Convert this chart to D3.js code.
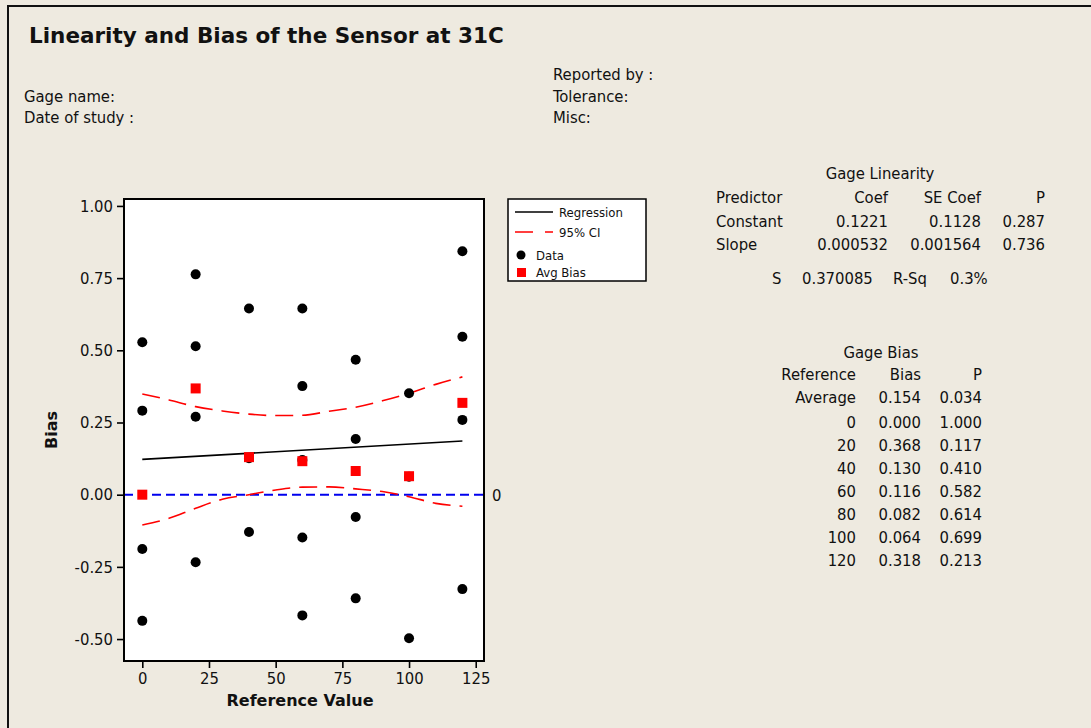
<!DOCTYPE html>
<html>
<head>
<meta charset="utf-8">
<script src="https://cdn.jsdelivr.net/npm/d3@7"></script>
<style>
  html, body { margin: 0; padding: 0; background: #EEEAE0; }
  svg { display: block; }
  .reg { font-family: 'DejaVu Sans Condensed', 'DejaVu Sans', sans-serif; font-stretch: condensed; fill: #111; }
  .bold { font-family: 'DejaVu Sans', sans-serif; font-weight: bold; fill: #111; }
</style>
</head>
<body>
<svg id="chart" width="1091" height="728"></svg>
<script>
// Reference values used in the study
const refValues = [0, 20, 40, 60, 80, 100, 120];

// Individual bias measurements (reference value, bias)
const dataRef  = [0, 0, 0, 0,
                  20, 20, 20, 20,
                  40, 40, 40,
                  60, 60, 60, 60, 60,
                  80, 80, 80, 80,
                  100, 100, 100,
                  120, 120, 120, 120];
const dataBias = [0.528, 0.291, -0.188, -0.437,
                  0.763, 0.514, 0.270, -0.234,
                  0.645, 0.126, -0.129,
                  0.645, 0.376, 0.120, -0.148, -0.418,
                  0.467, 0.193, -0.077, -0.359,
                  0.351, 0.062, -0.497,
                  0.843, 0.547, 0.259, -0.327];

// Average bias per reference value
const avgBias = [0.000, 0.368, 0.130, 0.116, 0.082, 0.064, 0.318];
const biasP   = ["1.000", "0.117", "0.410", "0.582", "0.614", "0.699", "0.213"];

// Regression fit
const regConst = 0.1221;
const regSlope = 0.000532;

// 95% confidence band of the regression
const ciRef   = [0, 10, 20, 30, 40, 50, 60, 70, 80, 90, 100, 110, 120];
const ciUpper = [0.349, 0.328, 0.305, 0.290, 0.279, 0.274, 0.275, 0.289, 0.303, 0.325, 0.351, 0.382, 0.408];
const ciLower = [-0.105, -0.082, -0.047, -0.016, 0.000, 0.016, 0.026, 0.027, 0.020, 0.011, -0.007, -0.030, -0.040];

// Axis ticks
const xTickValues = [0, 25, 50, 75, 100, 125];
const xTickLabels = ["0", "25", "50", "75", "100", "125"];
const yTickValues = [-0.5, -0.25, 0, 0.25, 0.5, 0.75, 1.0];
const yTickLabels = ["-0.50", "-0.25", "0.00", "0.25", "0.50", "0.75", "1.00"];

// Summary tables
const linHeader = ["Predictor", "Coef", "SE Coef", "P"];
const linRows = [
  ["Constant", "0.1221", "0.1128", "0.287"],
  ["Slope", "0.000532", "0.001564", "0.736"]
];
const linS = "0.370085";
const linRSq = "0.3%";
const biasAverage = ["Average", "0.154", "0.034"];

const svg = d3.select("#chart");

// Outer frame
svg.append("rect").attr("x", 8).attr("y", 6).attr("width", 1200).attr("height", 1000)
  .attr("fill", "#EEEAE0").attr("stroke", "#111").attr("stroke-width", 2);

// Header texts
svg.append("text").attr("class", "bold").attr("x", 29).attr("y", 43)
  .style("font-size", "21.5px").text("Linearity and Bias of the Sensor at 31C");
const hdr = [
  [24, 102, "Gage name:"], [24, 123, "Date of study :"],
  [553, 80, "Reported by :"], [553, 102, "Tolerance:"], [553, 123, "Misc:"]
];
hdr.forEach(h => svg.append("text").attr("class", "reg").attr("x", h[0]).attr("y", h[1])
  .style("font-size", "16.5px").text(h[2]));

// Plot area
const plot = { left: 124, top: 199, right: 484, bottom: 661 };
const x = d3.scaleLinear().domain([-6.86, 128.1]).range([plot.left, plot.right]);
const y = d3.scaleLinear().domain([-0.576, 1.024]).range([plot.bottom, plot.top]);

svg.append("rect").attr("x", plot.left).attr("y", plot.top)
  .attr("width", plot.right - plot.left).attr("height", plot.bottom - plot.top)
  .attr("fill", "#fff");

// Zero reference line
svg.append("line").attr("x1", plot.left).attr("x2", plot.right)
  .attr("y1", y(0)).attr("y2", y(0))
  .attr("stroke", "#0000EE").attr("stroke-width", 2).attr("stroke-dasharray", "9,5");
svg.append("text").attr("class", "reg").attr("x", 492).attr("y", y(0) + 6)
  .style("font-size", "16.5px").text("0");

// Regression line
svg.append("line")
  .attr("x1", x(0)).attr("y1", y(regConst))
  .attr("x2", x(120)).attr("y2", y(regConst + regSlope * 120))
  .attr("stroke", "#000").attr("stroke-width", 1.6);

// Confidence band
const ciLine = d3.line().x((d, i) => x(ciRef[i])).y(d => y(d)).curve(d3.curveMonotoneX);
[ciUpper, ciLower].forEach(arr => {
  svg.append("path").attr("d", ciLine(arr)).attr("fill", "none")
    .attr("stroke", "#FF0000").attr("stroke-width", 1.6).attr("stroke-dasharray", "18,9");
});

// Individual data points
svg.append("g").selectAll("circle").data(dataBias).join("circle")
  .attr("cx", (d, i) => x(dataRef[i])).attr("cy", d => y(d)).attr("r", 5)
  .attr("fill", "#000");

// Average bias markers
svg.append("g").selectAll("rect").data(avgBias).join("rect")
  .attr("x", (d, i) => x(refValues[i]) - 5).attr("y", d => y(d) - 5)
  .attr("width", 10).attr("height", 10).attr("fill", "#FF0000");

// Frame
svg.append("rect").attr("x", plot.left).attr("y", plot.top)
  .attr("width", plot.right - plot.left).attr("height", plot.bottom - plot.top)
  .attr("fill", "none").attr("stroke", "#000").attr("stroke-width", 2);

// Axes
const xAxis = d3.axisBottom(x).tickValues(xTickValues)
  .tickFormat((d, i) => xTickLabels[i]).tickSize(7).tickPadding(4);
const gx = svg.append("g").attr("transform", `translate(0,${plot.bottom})`).call(xAxis);
const yAxis = d3.axisLeft(y).tickValues(yTickValues)
  .tickFormat((d, i) => yTickLabels[i]).tickSize(7).tickPadding(4);
const gy = svg.append("g").attr("transform", `translate(${plot.left},0)`).call(yAxis);
[gx, gy].forEach(g => {
  g.select(".domain").remove();
  g.selectAll(".tick line").attr("stroke", "#000").attr("stroke-width", 1.6);
  g.selectAll(".tick text").attr("class", "reg").attr("fill", "#111")
    .style("font-size", "16.5px");
});

svg.append("text").attr("class", "bold").attr("x", 300).attr("y", 706)
  .attr("text-anchor", "middle").style("font-size", "16px").text("Reference Value");
svg.append("text").attr("class", "bold")
  .attr("transform", "translate(57,430) rotate(-90)")
  .attr("text-anchor", "middle").style("font-size", "16px").text("Bias");

// Legend
const lg = svg.append("g");
lg.append("rect").attr("x", 508).attr("y", 199).attr("width", 138).attr("height", 82)
  .attr("fill", "#fff").attr("stroke", "#000").attr("stroke-width", 1.5);
lg.append("line").attr("x1", 515).attr("x2", 553).attr("y1", 212).attr("y2", 212)
  .attr("stroke", "#000").attr("stroke-width", 1.6);
lg.append("line").attr("x1", 515).attr("x2", 553).attr("y1", 232).attr("y2", 232)
  .attr("stroke", "#FF0000").attr("stroke-width", 1.6).attr("stroke-dasharray", "18,12");
lg.append("circle").attr("cx", 521).attr("cy", 255).attr("r", 4.5).attr("fill", "#000");
lg.append("rect").attr("x", 517).attr("y", 268).attr("width", 9).attr("height", 9).attr("fill", "#FF0000");
[[559, 216.5, "Regression"], [559, 236.5, "95% CI"], [536, 259.5, "Data"], [536, 277, "Avg Bias"]]
  .forEach(t => lg.append("text").attr("class", "reg").attr("x", t[0]).attr("y", t[1])
    .style("font-size", "13px").text(t[2]));

// Gage Linearity table
const tf = "16.5px";
const lin = svg.append("g");
lin.append("text").attr("class", "reg").attr("x", 880).attr("y", 179)
  .attr("text-anchor", "middle").style("font-size", tf).text("Gage Linearity");
const linCols = [716, 888, 981, 1045];
const linAnchor = ["start", "end", "end", "end"];
[linHeader, ...linRows].forEach((row, r) => {
  row.forEach((cell, c) => lin.append("text").attr("class", "reg")
    .attr("x", linCols[c]).attr("y", 203 + r * 23.5)
    .attr("text-anchor", linAnchor[c]).style("font-size", tf).text(cell));
});
[[772, "start", "S"], [802, "start", linS], [893, "start", "R-Sq"], [950, "start", linRSq]]
  .forEach(t => lin.append("text").attr("class", "reg").attr("x", t[0]).attr("y", 284)
    .attr("text-anchor", t[1]).style("font-size", tf).text(t[2]));

// Gage Bias table
const gb = svg.append("g");
gb.append("text").attr("class", "reg").attr("x", 881).attr("y", 358)
  .attr("text-anchor", "middle").style("font-size", tf).text("Gage Bias");
const gbCols = [856, 921, 982];
const gbRows = [["Reference", "Bias", "P"], biasAverage]
  .concat(refValues.map((r, i) => [String(r), avgBias[i].toFixed(3), biasP[i]]));
gbRows.forEach((row, r) => {
  const yy = r === 0 ? 380 : (r === 1 ? 403 : 427.5 + (r - 2) * 23);
  row.forEach((cell, c) => gb.append("text").attr("class", "reg")
    .attr("x", gbCols[c]).attr("y", yy).attr("text-anchor", "end")
    .style("font-size", tf).text(cell));
});
</script>
</body>
</html>
